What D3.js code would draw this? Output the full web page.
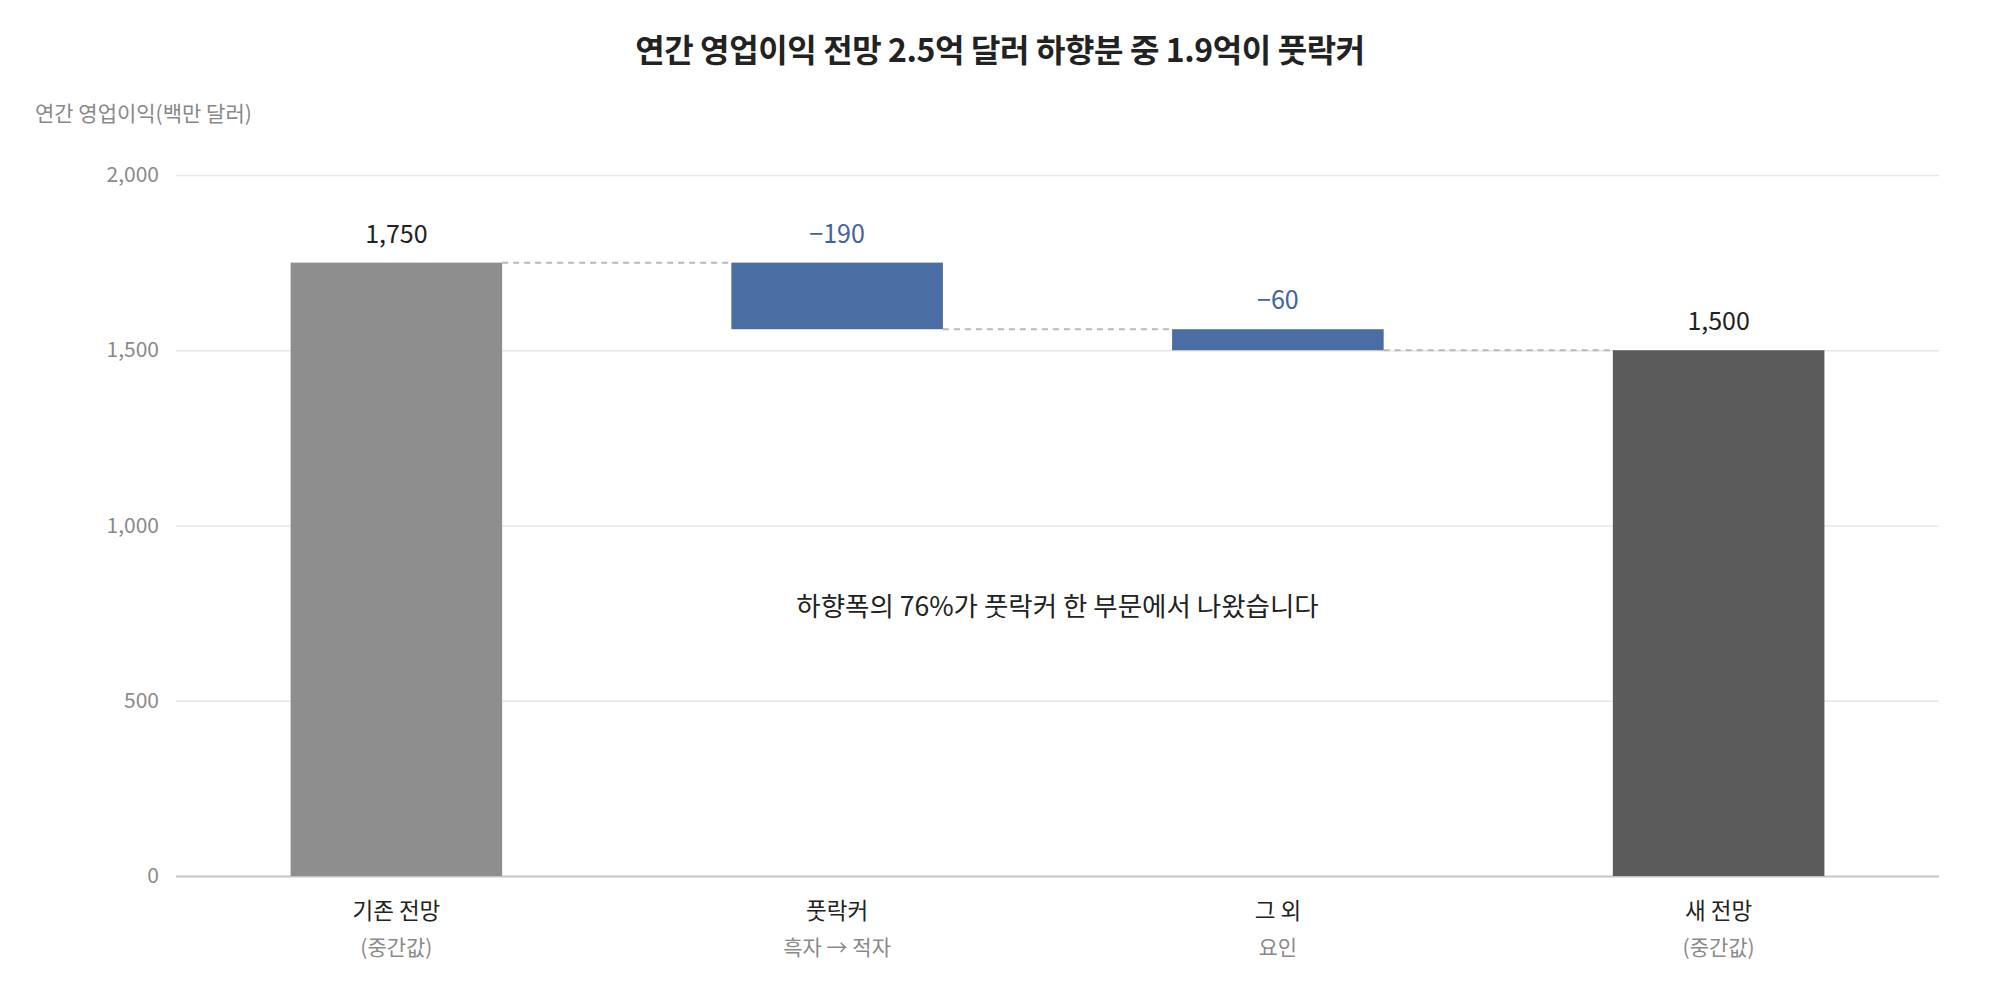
<!DOCTYPE html>
<html>
<head>
<meta charset="utf-8">
<script src="https://cdn.jsdelivr.net/npm/d3@7"></script>
<style>
  body { margin: 0; background: #fff; }
  text { font-family: "Noto Sans CJK KR", "Noto Sans", sans-serif; }
</style>
</head>
<body>
<div class="chart"></div>
<script>
// Chart data
const categories = ["기존 전망", "풋락커", "그 외", "새 전망"];
const subLabels = ["(중간값)", "흑자 → 적자", "요인", "(중간값)"];
const values = [1750, -190, -60, 1500];
const kinds = ["total", "delta", "delta", "total"];
const yTicks = [0, 500, 1000, 1500, 2000];
const titleText = "연간 영업이익 전망 2.5억 달러 하향분 중 1.9억이 풋락커";
const yTitle = "연간 영업이익(백만 달러)";
const note = "하향폭의 76%가 풋락커 한 부문에서 나왔습니다";

// Layout
const width = 2000
const height = 1000
const margin = { top: 175, right: 61, bottom: 124, left: 176 };
const plotW = width - margin.left - margin.right
const plotH = height - margin.top - margin.bottom

const svg = d3.select(".chart")
  .append("svg")
  .attr("width", width)
  .attr("height", height)

// Running totals for the waterfall
let running = 0;
const bars = categories.map((c, i) => {
  let start, end;
  if (kinds[i] === "total") {
    start = 0;
    end = values[i];
  } else {
    start = running;
    end = running + values[i];
  }
  running = end;
  return { cat: c, sub: subLabels[i], value: values[i], kind: kinds[i], start, end, i };
});

const x = d3.scaleBand()
  .domain(categories)
  .range([0, plotW])
  .paddingInner(0.52)
  .paddingOuter(0.26);

const y = d3.scaleLinear()
  .domain([0, 2000])
  .range([plotH, 0]);

const color = d3.scaleOrdinal()
  .domain(categories)
  .range(["#8e8e8e", "#4a6da3", "#4a6da3", "#5b5b5b"]);

const g = svg.append("g")
  .attr("transform", `translate(${margin.left},${margin.top})`);

// Title
svg.append("text")
  .attr("x", width / 2)
  .attr("y", 48)
  .attr("text-anchor", "middle")
  .attr("dominant-baseline", "central")
  .style("font-size", "32px")
  .style("font-weight", "bold")
  .style("letter-spacing", "-0.4px")
  .style("fill", "#222")
  .text(titleText);

// Y axis title
svg.append("text")
  .attr("x", 35)
  .attr("y", 112)
  .attr("dominant-baseline", "central")
  .style("font-size", "21px")
  .style("fill", "#888")
  .text(yTitle);

// Gridlines + tick labels
const yAxis = g.append("g")
  .call(d3.axisLeft(y)
    .tickValues(yTicks)
    .tickSize(-plotW)
    .tickPadding(17)
    .tickFormat(d3.format(",")));

yAxis.select(".domain").remove();
yAxis.selectAll(".tick line")
  .attr("stroke", d => d === 0 ? "#c4c4c4" : "#e6e6e6")
  .attr("stroke-width", d => d === 0 ? 2 : 1.5);
yAxis.selectAll(".tick text")
  .style("font-family", "\"Noto Sans CJK KR\", sans-serif")
  .style("font-size", "21px")
  .style("fill", "#8a8a8a");

// Dashed connectors between bars
g.selectAll(".connector")
  .data(bars.slice(0, -1))
  .join("line")
  .attr("class", "connector")
  .attr("x1", d => x(d.cat) + x.bandwidth())
  .attr("x2", d => x(categories[d.i + 1]))
  .attr("y1", d => y(d.end))
  .attr("y2", d => y(d.end))
  .attr("stroke", "#b8b8b8")
  .attr("stroke-width", 2)
  .attr("stroke-dasharray", "6,5");

// Bars
g.selectAll(".bar")
  .data(bars)
  .join("rect")
  .attr("class", "bar")
  .attr("x", d => x(d.cat))
  .attr("width", x.bandwidth())
  .attr("y", d => y(Math.max(d.start, d.end)))
  .attr("height", d => Math.abs(y(d.start) - y(d.end)))
  .attr("fill", d => color(d.cat));

// Value labels above bars
g.selectAll(".val")
  .data(bars)
  .join("text")
  .attr("class", "val")
  .attr("x", d => x(d.cat) + x.bandwidth() / 2)
  .attr("y", d => y(Math.max(d.start, d.end)) - 31)
  .attr("text-anchor", "middle")
  .attr("dominant-baseline", "central")
  .style("font-size", "25px")
  .style("fill", d => d.kind === "delta" ? "#3f64a0" : "#222")
  .text(d => d3.format(",")(d.value));

// Category labels
g.selectAll(".cat")
  .data(bars)
  .join("text")
  .attr("class", "cat")
  .attr("x", d => x(d.cat) + x.bandwidth() / 2)
  .attr("y", plotH + 33)
  .attr("text-anchor", "middle")
  .attr("dominant-baseline", "central")
  .style("font-size", "22.5px")
  .style("fill", "#222")
  .text(d => d.cat);

g.selectAll(".sub")
  .data(bars)
  .join("text")
  .attr("class", "sub")
  .attr("x", d => x(d.cat) + x.bandwidth() / 2)
  .attr("y", plotH + 70)
  .attr("text-anchor", "middle")
  .attr("dominant-baseline", "central")
  .style("font-size", "21px")
  .style("fill", "#8a8a8a")
  .text(d => d.sub);

// Annotation between the two delta bars
const noteX = (x(categories[1]) + x(categories[2]) + x.bandwidth()) / 2;
g.append("text")
  .attr("x", noteX)
  .attr("y", 604 - margin.top)
  .attr("text-anchor", "middle")
  .attr("dominant-baseline", "central")
  .style("font-size", "26.5px")
  .style("fill", "#222")
  .text(note);
</script>
</body>
</html>
